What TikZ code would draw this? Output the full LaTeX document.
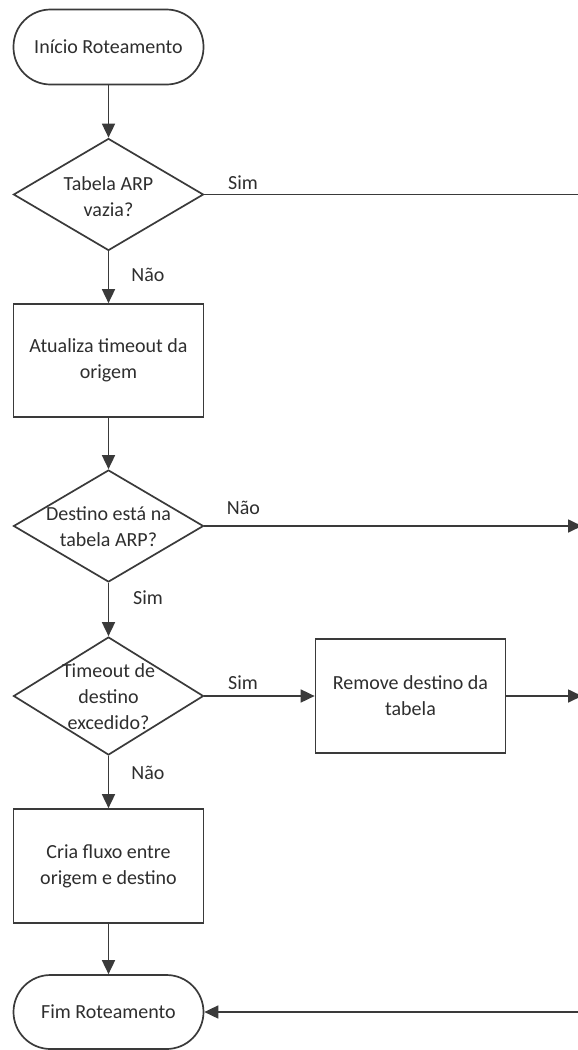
\documentclass[tikz,border=0pt]{standalone}
\usepackage{fontspec}
\setmainfont{Carlito}
\usetikzlibrary{arrows.meta,shapes.geometric}
\definecolor{lncol}{HTML}{3A3A3A}
\definecolor{txcol}{HTML}{2E2E2E}
\begin{document}
\begin{tikzpicture}[x=1pt,y=-1pt,
  base/.style={draw=lncol, line width=1.7pt, fill=white, inner sep=0pt, text=txcol,
    font=\fontsize{20}{26}\selectfont, align=center},
  term/.style={base, rectangle, rounded corners=37pt, minimum width=190pt, minimum height=75pt},
  proc/.style={base, rectangle, minimum width=190pt, minimum height=113pt},
  dec/.style={base, diamond, minimum width=190pt, minimum height=112pt},
  txt/.style={text=txcol, font=\fontsize{20}{26}\selectfont, align=center, inner sep=0pt},
  lab/.style={text=txcol, font=\fontsize{20}{26}\selectfont, inner sep=0pt},
  conn/.style={draw=lncol, line width=1.7pt},
  arr/.style={conn, -{Triangle[width=13pt,length=14pt]}}
]
\clip (0,0) rectangle (578,1050);
\useasboundingbox (0,0) rectangle (578,1050);
\fill[white] (0,0) rectangle (578,1050);

\node[term] (start) at (108.5,47) {Início Roteamento};
\node[dec] (d1) at (108.5,194.5) {};
\node[txt] (t1) at (108.5,197) {Tabela ARP\\vazia?};
\node[proc] (b1) at (108.5,360.5) {Atualiza timeout da\\origem};
\node[dec] (d2) at (108.5,526) {};
\node[txt] (t2) at (108.5,527) {Destino está na\\tabela ARP?};
\node[dec, minimum height=118pt] (d3) at (108.5,696) {};
\node[txt] (t3) at (108.5,697) {Timeout de\\destino\\excedido?};
\node[proc, minimum height=114pt] (rem) at (410.5,696) {Remove destino da\\tabela};
\node[proc, minimum height=114pt] (b2) at (108.5,866) {Cria fluxo entre\\origem e destino};
\node[term, minimum height=74pt] (end) at (108.5,1012) {Fim Roteamento};

\coordinate (r1) at (582,194.5);
\coordinate (r2) at (582,526);
\coordinate (r3) at (582,696);
\coordinate (r4) at (582,1012);

\draw[arr] (start) -- (d1);
\draw[arr] (d1) -- (b1);
\draw[arr] (b1) -- (d2);
\draw[arr] (d2) -- (d3);
\draw[arr] (d3) -- (b2);
\draw[arr] (b2) -- (end);
\draw[conn] (d1.east) -- (r1);
\draw[arr] (d2.east) -- (r2);
\draw[arr] (d3.east) -- (rem.west);
\draw[arr] (rem.east) -- (r3);
\draw[arr] (r4) -- (end.east);

\node[lab] (l1) at (243,183) {Sim};
\node[lab] (l2) at (148,274.5) {Não};
\node[lab] (l3) at (243.5,508) {Não};
\node[lab] (l4) at (148,598) {Sim};
\node[lab] (l5) at (243,683) {Sim};
\node[lab] (l6) at (148,773) {Não};
\end{tikzpicture}
\end{document}
